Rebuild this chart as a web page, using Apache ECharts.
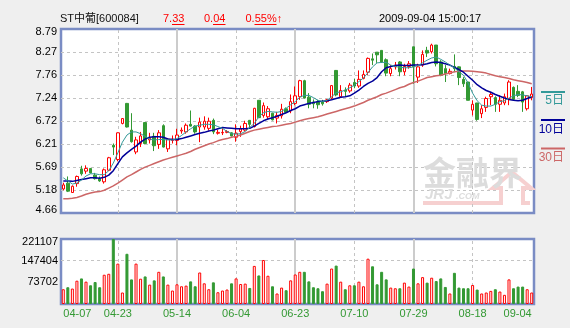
<!DOCTYPE html>
<html>
<head>
<meta charset="utf-8">
<script src="https://cdn.jsdelivr.net/npm/echarts@6/dist/echarts.min.js"></script>
<style>
  html, body { margin: 0; padding: 0; background: #efefef; }
  #chart { width: 570px; height: 328px; }
</style>
</head>
<body>
<div id="chart"></div>
<script>
// ---- Quote header ----
const stockName = 'ST中葡[600084]';
const lastPrice = '7.33';
const priceChange = '0.04';
const pctChange = '0.55%↑';
const quoteTime = '2009-09-04 15:00:17';

// ---- Trading days ----
const dates = [
  '04-07','04-08','04-09','04-10','04-13','04-14','04-15','04-16','04-17','04-20',
  '04-21','04-22','04-23','04-24','04-27','04-28','04-29','05-04','05-05','05-06',
  '05-07','05-08','05-11','05-12','05-13','05-14','05-15','05-18','05-19','05-20',
  '05-21','05-22','05-25','05-26','05-27','06-01','06-02','06-03','06-04','06-05',
  '06-08','06-09','06-10','06-11','06-12','06-15','06-16','06-17','06-18','06-19',
  '06-22','06-23','06-24','06-25','06-26','06-29','06-30','07-01','07-02','07-03',
  '07-06','07-07','07-08','07-09','07-10','07-13','07-14','07-15','07-16','07-17',
  '07-20','07-21','07-22','07-23','07-24','07-27','07-28','07-29','07-30','07-31',
  '08-03','08-04','08-05','08-06','08-10','08-11','08-12','08-13','08-14','08-17',
  '08-18','08-19','08-20','08-21','08-24','08-25','08-26','08-27','08-28','08-31',
  '09-01','09-02','09-03','09-04'
];

// ---- Daily prices ----
const openP = [
  5.20,5.33,5.12,5.32,5.65,5.60,5.66,5.51,5.43,5.36,
  5.62,6.18,5.86,6.67,7.12,6.52,6.03,6.22,6.69,6.30,
  6.38,6.20,6.62,6.10,6.29,6.29,6.50,6.48,6.65,6.61,
  6.59,6.59,6.56,6.74,6.45,6.46,6.47,6.46,6.36,6.49,
  6.52,6.74,6.60,7.19,6.85,6.82,6.90,6.79,6.84,7.00,
  6.95,7.12,7.27,7.63,7.26,7.15,7.16,7.15,7.16,7.24,
  7.86,7.27,7.42,7.40,7.59,7.51,7.68,7.82,8.12,8.27,
  8.31,8.10,7.79,7.94,8.05,7.83,7.95,8.39,7.71,7.98,
  8.31,8.28,8.43,8.05,7.90,7.79,7.95,7.94,7.66,7.60,
  6.97,7.13,6.89,7.03,7.27,7.25,7.10,7.13,7.23,7.48,
  7.39,7.38,7.00,7.25
];
const closeP = [
  5.29,5.15,5.26,5.48,5.54,5.66,5.56,5.43,5.38,5.63,
  5.90,6.14,6.46,6.78,6.59,6.26,6.30,6.39,6.22,6.34,
  6.17,6.46,6.14,6.32,6.32,6.41,6.52,6.63,6.61,6.48,
  6.70,6.72,6.72,6.48,6.47,6.47,6.49,6.39,6.45,6.55,
  6.67,6.65,7.01,6.80,7.07,7.00,6.75,6.85,6.99,6.92,
  7.16,7.29,7.63,7.24,7.10,7.11,7.09,7.11,7.20,7.52,
  7.31,7.41,7.39,7.53,7.51,7.66,7.77,8.13,8.09,8.21,
  8.05,7.80,7.90,7.98,7.83,7.95,8.01,7.94,7.94,8.22,
  8.25,8.43,8.01,7.75,7.79,7.84,7.90,7.70,7.56,7.19,
  7.10,6.76,7.00,7.23,7.32,7.10,7.19,7.27,7.60,7.21,
  7.30,7.15,7.29,7.33
];
const lowP = [
  5.17,5.13,5.11,5.25,5.50,5.54,5.55,5.41,5.36,5.32,
  5.60,5.96,5.82,6.65,6.58,6.24,5.98,6.14,6.20,6.22,
  6.05,6.10,6.13,6.03,6.22,6.18,6.44,6.44,6.60,6.44,
  6.25,6.53,6.51,6.43,6.42,6.41,6.45,6.38,6.26,6.37,
  6.49,6.55,6.58,6.79,6.80,6.77,6.74,6.67,6.78,6.90,
  6.90,7.08,7.20,7.23,7.01,7.01,7.00,7.07,7.13,7.22,
  7.28,7.25,7.27,7.36,7.46,7.47,7.66,7.76,7.98,8.03,
  8.03,7.73,7.73,7.88,7.73,7.75,7.90,7.56,7.58,7.94,
  8.16,8.24,7.95,7.73,7.60,7.77,7.82,7.53,7.49,7.19,
  6.85,6.73,6.79,6.93,7.08,6.93,6.93,7.08,7.08,7.19,
  7.26,6.93,6.96,7.19
];
const highP = [
  5.34,5.48,5.28,5.50,5.72,5.73,5.67,5.56,5.48,5.66,
  5.92,6.22,6.47,6.79,7.13,6.90,6.37,6.48,6.70,6.46,
  6.46,6.52,6.65,6.34,6.40,6.55,6.58,6.67,6.96,6.63,
  6.80,6.83,6.80,6.78,6.53,6.56,6.52,6.47,6.65,6.62,
  6.73,6.74,7.02,7.19,7.14,7.06,6.91,6.93,7.11,7.03,
  7.32,7.50,7.65,7.65,7.35,7.21,7.20,7.20,7.22,7.53,
  7.87,7.53,7.48,7.58,7.67,7.86,7.86,8.15,8.24,8.27,
  8.31,8.13,7.98,8.05,8.07,8.01,8.07,8.39,8.01,8.31,
  8.39,8.46,8.43,8.09,7.98,7.90,8.22,7.95,7.71,7.60,
  7.19,7.13,7.08,7.27,7.38,7.28,7.30,7.34,7.64,7.50,
  7.53,7.40,7.30,7.49
];

// ---- Moving averages (5, 10, 30 days) ----
const ma5 = [
  5.45,5.38,5.31,5.33,5.40,5.49,5.54,5.54,5.52,5.52,
  5.61,5.78,6.01,6.25,6.41,6.48,6.48,6.44,6.38,6.32,
  6.30,6.31,6.31,6.30,6.30,6.33,6.40,6.48,6.55,6.61,
  6.63,6.65,6.65,6.64,6.60,6.56,6.49,6.44,6.43,6.44,
  6.49,6.58,6.67,6.82,6.91,6.94,6.93,6.92,6.94,7.01,
  7.09,7.16,7.26,7.30,7.30,7.25,7.19,7.16,7.19,7.27,
  7.36,7.38,7.42,7.47,7.53,7.61,7.69,7.81,7.94,8.03,
  8.04,8.04,7.98,7.95,7.93,7.92,7.92,7.94,7.97,8.03,
  8.09,8.14,8.16,8.11,8.05,7.98,7.92,7.83,7.75,7.58,
  7.35,7.18,7.08,7.06,7.06,7.10,7.16,7.18,7.24,7.29,
  7.32,7.31,7.29,7.27
];
const ma10 = [
  5.38,5.38,5.37,5.39,5.41,5.43,5.45,5.45,5.44,5.46,
  5.51,5.61,5.77,5.92,6.01,6.09,6.16,6.25,6.32,6.36,
  6.37,6.37,6.36,6.32,6.31,6.31,6.33,6.36,6.39,6.42,
  6.45,6.47,6.50,6.52,6.55,6.58,6.57,6.56,6.55,6.55,
  6.55,6.56,6.61,6.67,6.73,6.77,6.80,6.83,6.87,6.91,
  6.96,7.00,7.06,7.09,7.12,7.14,7.16,7.17,7.18,7.20,
  7.23,7.26,7.27,7.29,7.35,7.42,7.50,7.57,7.62,7.70,
  7.83,7.92,7.95,7.97,7.98,7.97,7.97,7.98,7.98,7.99,
  8.01,8.04,8.05,8.04,8.01,7.98,7.93,7.88,7.82,7.73,
  7.64,7.54,7.47,7.41,7.37,7.32,7.28,7.24,7.21,7.19,
  7.18,7.19,7.23,7.27
];
const ma30 = [
  4.98,4.98,4.99,5.01,5.04,5.08,5.11,5.13,5.14,5.17,
  5.22,5.27,5.33,5.40,5.47,5.52,5.58,5.64,5.69,5.73,
  5.77,5.81,5.85,5.88,5.91,5.94,5.97,6.00,6.04,6.09,
  6.13,6.17,6.21,6.24,6.28,6.31,6.33,6.36,6.38,6.41,
  6.45,6.49,6.52,6.54,6.56,6.58,6.60,6.61,6.63,6.65,
  6.67,6.70,6.73,6.76,6.78,6.80,6.82,6.85,6.88,6.91,
  6.94,6.97,7.00,7.03,7.06,7.10,7.14,7.19,7.23,7.27,
  7.32,7.35,7.39,7.43,7.47,7.50,7.55,7.59,7.62,7.66,
  7.70,7.72,7.74,7.75,7.78,7.80,7.83,7.84,7.85,7.85,
  7.84,7.83,7.82,7.80,7.77,7.74,7.72,7.70,7.68,7.65,
  7.63,7.61,7.59,7.56
];

// ---- Daily volume ----
const volume = [
  50250,57000,52500,79300,87000,76000,63700,74700,57000,99500,
  102800,221107,137300,39100,170800,83700,137300,86000,93800,65900,
  80400,109500,93800,65900,45800,67000,60300,62500,77000,60300,
  107200,70400,50250,73700,40000,45800,49200,70350,87100,68000,
  69300,54600,129600,97150,149700,96100,60300,35700,55800,46900,
  80400,100500,109500,109500,77000,57000,53600,43500,69300,120600,
  130650,76000,50250,63650,63650,76000,60300,154100,128300,67000,
  109500,83750,55800,53600,53600,72700,59300,120600,70350,91450,
  72700,89400,78000,87100,58000,35800,106100,55800,53600,53600,
  64700,49100,35800,39100,44600,50250,42400,31200,83750,53600,
  59300,59300,50250,39100
];

// ---- Axis ticks and labels ----
const priceTicks = [4.66, 5.18, 5.69, 6.21, 6.72, 7.24, 7.76, 8.27, 8.79];
const volumeTicks = [73702, 147404, 221107];
const dateLabels = ['04-07','04-23','05-14','06-04','06-23','07-10','07-29','08-18','09-04'];
const dashedDates = ['04-23','06-04','07-10','08-18'];
const solidDates = ['05-14','06-23','07-29'];
const maNames = ['5日', '10日', '30日'];

// ---- Styling ----
const UP = '#ff0000';
const DOWN = '#339933';
const MA_COLORS = ['#339999', '#000099', '#cc6666'];
const BORDER = '#7a8cc4';
const GRID_GRAY = '#c4c4c4';
const FONT = '"Liberation Sans", "Noto Sans CJK SC", sans-serif';

const candles = dates.map((d, i) => [openP[i], closeP[i], lowP[i], highP[i]]);
const volumeBars = volume.map((v, i) => ({
  value: v,
  itemStyle: closeP[i] >= openP[i]
    ? { color: '#ffffff', borderColor: UP, borderWidth: 1 }
    : { color: DOWN, borderColor: DOWN, borderWidth: 1 }
}));

const verticalLines = [
  ...dashedDates.map(d => ({ xAxis: d, lineStyle: { type: [3, 3], color: GRID_GRAY, width: 1 } })),
  ...solidDates.map(d => ({ xAxis: d, lineStyle: { type: 'solid', color: '#cccccc', width: 2 } }))
];

function nearestIndex(list, v) {
  let best = 0;
  for (let i = 1; i < list.length; i++) {
    if (Math.abs(list[i] - v) < Math.abs(list[best] - v)) best = i;
  }
  return best;
}

const labelRich = {
  t: { padding: [6, 0, 0, 0], fontFamily: FONT, fontSize: 11, color: '#000' },
  b: { padding: [0, 0, 6, 0], fontFamily: FONT, fontSize: 11, color: '#000' }
};

// vertical date grid lines, kept beneath the candles and bars
function gridLineSeries(xi, yi) {
  return {
    type: 'line', xAxisIndex: xi, yAxisIndex: yi, data: [], z: 1, silent: true,
    markLine: {
      z: 1, symbol: 'none', silent: true, animation: false,
      label: { show: false }, emphasis: { disabled: true },
      data: verticalLines
    }
  };
}

function maSeries(data, k, width) {
  return {
    type: 'line', data: data, xAxisIndex: 0, yAxisIndex: 0,
    symbol: 'none', showSymbol: false, silent: true, z: 4,
    lineStyle: { color: MA_COLORS[k], width: width }
  };
}

const chart = echarts.init(document.getElementById('chart'), null, { renderer: 'canvas', width: 570, height: 328 });

const headerFont = '11px ' + FONT;
const option = {
  animation: false,
  backgroundColor: '#efefef',
  grid: [
    { left: 61, top: 29, width: 473, height: 184, show: true, backgroundColor: '#ffffff', borderColor: BORDER, borderWidth: 2.5 },
    { left: 61, top: 239, width: 473, height: 65, show: true, backgroundColor: '#ffffff', borderColor: BORDER, borderWidth: 2.5 }
  ],
  xAxis: [
    {
      type: 'category', gridIndex: 0, data: dates, boundaryGap: true,
      axisLine: { show: false }, axisTick: { show: false }, axisLabel: { show: false }, splitLine: { show: false }
    },
    {
      type: 'category', gridIndex: 1, data: dates, boundaryGap: true,
      axisLine: { show: false }, axisTick: { show: false }, splitLine: { show: false },
      axisLabel: {
        show: true, color: DOWN, fontFamily: FONT, fontSize: 11, margin: 4,
        interval: (idx, val) => dateLabels.indexOf(val) >= 0,
        alignMinLabel: 'left', alignMaxLabel: 'right'
      }
    }
  ],
  yAxis: [
    {
      type: 'value', gridIndex: 0, min: 4.66, max: 8.79,
      axisLine: { show: false },
      axisTick: { show: false, customValues: priceTicks },
      axisLabel: {
        customValues: priceTicks, color: '#000', fontFamily: FONT, fontSize: 11, margin: 4,
        formatter: v => {
          const i = nearestIndex(priceTicks, v);
          const s = priceTicks[i].toFixed(2);
          if (i === priceTicks.length - 1) return '{t|' + s + '}';
          if (i === 0) return '{b|' + s + '}';
          return s;
        },
        rich: labelRich
      },
      splitLine: { show: true, showMinLine: false, showMaxLine: false, lineStyle: { color: GRID_GRAY, type: [3, 3], width: 1 } }
    },
    {
      type: 'value', gridIndex: 1, min: 0, max: 221107,
      axisLine: { show: false },
      axisTick: { show: false, customValues: volumeTicks },
      axisLabel: {
        customValues: volumeTicks, color: '#000', fontFamily: FONT, fontSize: 11, margin: 3,
        formatter: v => {
          const i = nearestIndex(volumeTicks, v);
          const s = String(volumeTicks[i]);
          if (i === volumeTicks.length - 1) return '{t|' + s + '}';
          return s;
        },
        rich: labelRich
      },
      splitLine: { show: true, showMinLine: false, showMaxLine: false, lineStyle: { color: GRID_GRAY, type: [3, 3], width: 1 } }
    }
  ],
  series: [
    gridLineSeries(0, 0),
    gridLineSeries(1, 1),
    {
      type: 'candlestick', data: candles, xAxisIndex: 0, yAxisIndex: 0, z: 3,
      barWidth: 3, silent: true,
      itemStyle: {
        color: '#ffffff', color0: DOWN,
        borderColor: UP, borderColor0: DOWN, borderColorDoji: UP, borderWidth: 1
      }
    },
    maSeries(ma30, 2, 1.5),
    maSeries(ma10, 1, 1.5),
    maSeries(ma5, 0, 1),
    {
      type: 'bar', data: volumeBars, xAxisIndex: 1, yAxisIndex: 1, z: 3,
      barWidth: 3, silent: true
    }
  ],
  graphic: [
    // quote header
    { type: 'text', x: 60, y: 19, z: 10, style: { text: stockName, fill: '#111', font: headerFont, verticalAlign: 'middle', textVerticalAlign: 'middle' } },
    { type: 'text', x: 163, y: 19, z: 10, style: { text: lastPrice, fill: UP, font: headerFont, verticalAlign: 'middle', textVerticalAlign: 'middle' } },
    { type: 'text', x: 204, y: 19, z: 10, style: { text: priceChange, fill: UP, font: headerFont, verticalAlign: 'middle', textVerticalAlign: 'middle' } },
    { type: 'text', x: 245.5, y: 19, z: 10, style: { text: pctChange, fill: UP, font: headerFont, verticalAlign: 'middle', textVerticalAlign: 'middle' } },
    { type: 'text', x: 379, y: 19, z: 10, style: { text: quoteTime, fill: '#000', font: headerFont, verticalAlign: 'middle', textVerticalAlign: 'middle' } },
    { type: 'line', z: 10, shape: { x1: 172, y1: 24.5, x2: 184.5, y2: 24.5 }, style: { stroke: UP, lineWidth: 1 } },
    { type: 'line', z: 10, shape: { x1: 213, y1: 24.5, x2: 225.5, y2: 24.5 }, style: { stroke: UP, lineWidth: 1 } },
    { type: 'line', z: 10, shape: { x1: 254.5, y1: 24.5, x2: 276.5, y2: 24.5 }, style: { stroke: UP, lineWidth: 1 } },

    // moving-average key
    { type: 'line', z: 10, shape: { x1: 541, y1: 92, x2: 565, y2: 92 }, style: { stroke: MA_COLORS[0], lineWidth: 2 } },
    { type: 'text', x: 564, y: 101, z: 10, style: { text: maNames[0], fill: MA_COLORS[0], font: '12px ' + FONT, align: 'right', textAlign: 'right', verticalAlign: 'middle', textVerticalAlign: 'middle' } },
    { type: 'line', z: 10, shape: { x1: 541, y1: 120, x2: 565, y2: 120 }, style: { stroke: MA_COLORS[1], lineWidth: 2 } },
    { type: 'text', x: 564, y: 129.5, z: 10, style: { text: maNames[1], fill: MA_COLORS[1], font: '12px ' + FONT, align: 'right', textAlign: 'right', verticalAlign: 'middle', textVerticalAlign: 'middle' } },
    { type: 'line', z: 10, shape: { x1: 541, y1: 148.5, x2: 565, y2: 148.5 }, style: { stroke: MA_COLORS[2], lineWidth: 2 } },
    { type: 'text', x: 564, y: 158, z: 10, style: { text: maNames[2], fill: MA_COLORS[2], font: '12px ' + FONT, align: 'right', textAlign: 'right', verticalAlign: 'middle', textVerticalAlign: 'middle' } },

    // site watermark
    { type: 'polyline', z: 1, silent: true, shape: { points: [[423, 203], [501, 203], [501, 188], [493, 188], [512, 172], [531, 188], [523, 188], [523, 203], [530, 203]] }, style: { stroke: '#f6d0d0', lineWidth: 4, fill: null } },
    { type: 'text', x: 423, y: 172, z: 1, silent: true, style: { text: '金融界', fill: '#dcdcdc', font: 'bold 33px "Noto Sans CJK SC"', verticalAlign: 'middle', textVerticalAlign: 'middle' } },
    { type: 'text', x: 425, y: 195, z: 1, silent: true, style: { text: 'JRJ', fill: '#dddddd', font: 'italic bold 15px "Liberation Sans"', verticalAlign: 'middle', textVerticalAlign: 'middle' } },
    { type: 'text', x: 456, y: 197, z: 1, silent: true, style: { text: '.COM', fill: '#dddddd', font: 'italic bold 9px "Liberation Sans"', verticalAlign: 'middle', textVerticalAlign: 'middle' } }
  ]
};

chart.setOption(option);
</script>
</body>
</html>
